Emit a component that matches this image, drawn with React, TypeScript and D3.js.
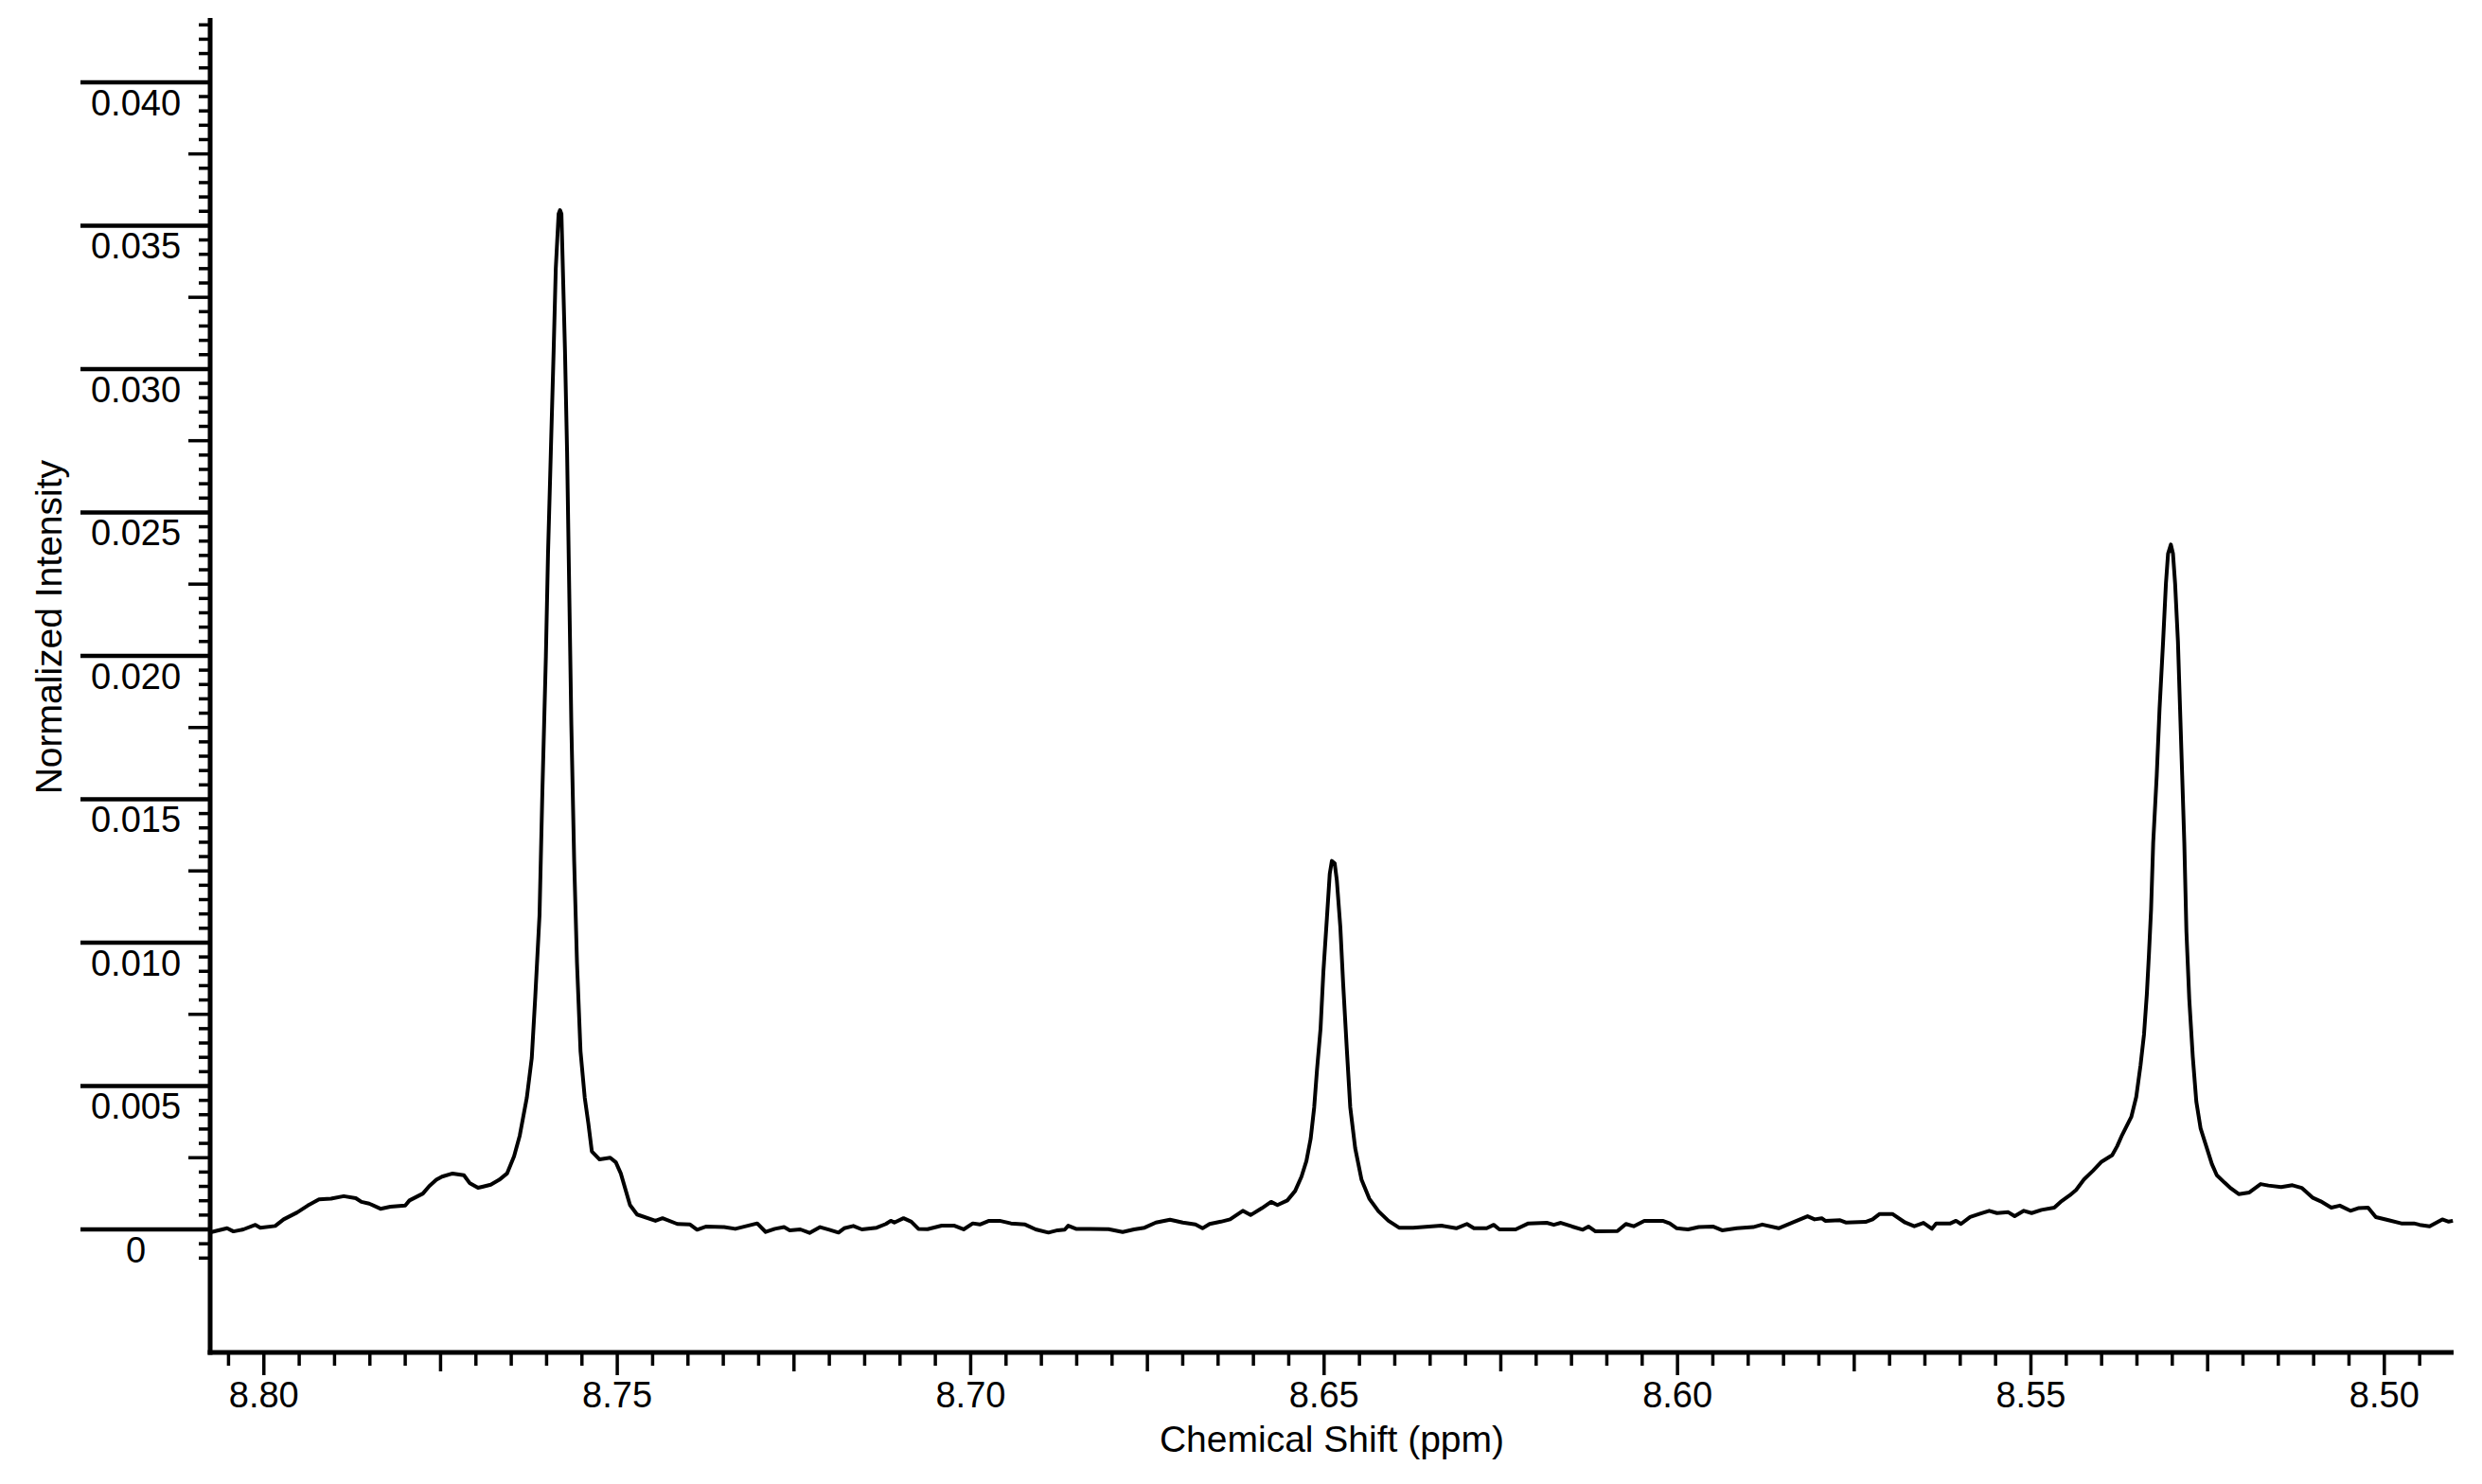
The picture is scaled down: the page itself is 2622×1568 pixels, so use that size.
import { useEffect, useRef } from "react"
import * as d3 from "d3"

// chemical shift (ppm) from left to right
const shifts = [
    8.8074, 8.8052, 8.8043, 8.8029, 8.8012, 8.8005, 8.7984, 8.7972, 8.7953, 8.7938,
    8.7922, 8.7905, 8.7887, 8.7870, 8.7862, 8.7851, 8.7835, 8.7821, 8.7800, 8.7794,
    8.7775, 8.7766, 8.7756, 8.7748, 8.7733, 8.7717, 8.7709, 8.7697, 8.7679, 8.7667,
    8.7656, 8.7646, 8.7638, 8.7628, 8.7621, 8.7616, 8.7610, 8.7606, 8.7601, 8.7598,
    8.7594, 8.7590, 8.7587, 8.7583, 8.7581, 8.7579, 8.7577, 8.7574, 8.7571, 8.7568,
    8.7565, 8.7561, 8.7557, 8.7552, 8.7546, 8.7541, 8.7536, 8.7525, 8.7510, 8.7502,
    8.7495, 8.7482, 8.7472, 8.7446, 8.7436, 8.7415, 8.7397, 8.7387, 8.7374, 8.7349,
    8.7333, 8.7302, 8.7290, 8.7277, 8.7264, 8.7256, 8.7241, 8.7228, 8.7213, 8.7200,
    8.7187, 8.7179, 8.7166, 8.7154, 8.7133, 8.7120, 8.7113, 8.7108, 8.7095, 8.7084,
    8.7074, 8.7061, 8.7041, 8.7023, 8.7010, 8.6997, 8.6987, 8.6974, 8.6959, 8.6943,
    8.6923, 8.6908, 8.6890, 8.6877, 8.6867, 8.6862, 8.6851, 8.6831, 8.6805, 8.6785,
    8.6769, 8.6754, 8.6738, 8.6718, 8.6700, 8.6682, 8.6672, 8.6662, 8.6646, 8.6633,
    8.6615, 8.6604, 8.6588, 8.6575, 8.6566, 8.6552, 8.6541, 8.6532, 8.6525, 8.6519,
    8.6514, 8.6510, 8.6505, 8.6501, 8.6496, 8.6492, 8.6489, 8.6485, 8.6482, 8.6477,
    8.6473, 8.6468, 8.6463, 8.6456, 8.6447, 8.6436, 8.6423, 8.6409, 8.6394, 8.6374,
    8.6334, 8.6313, 8.6298, 8.6288, 8.6270, 8.6260, 8.6252, 8.6229, 8.6211, 8.6185,
    8.6175, 8.6165, 8.6149, 8.6134, 8.6126, 8.6116, 8.6085, 8.6073, 8.6062, 8.6047,
    8.6021, 8.6011, 8.6001, 8.5985, 8.5970, 8.5950, 8.5937, 8.5916, 8.5893, 8.5880,
    8.5857, 8.5837, 8.5816, 8.5806, 8.5796, 8.5791, 8.5770, 8.5762, 8.5734, 8.5724,
    8.5714, 8.5696, 8.5678, 8.5665, 8.5652, 8.5640, 8.5634, 8.5614, 8.5606, 8.5599,
    8.5586, 8.5573, 8.5559, 8.5548, 8.5532, 8.5523, 8.5510, 8.5499, 8.5485, 8.5467,
    8.5458, 8.5445, 8.5436, 8.5425, 8.5412, 8.5400, 8.5385, 8.5378, 8.5371, 8.5358,
    8.5351, 8.5345, 8.5340, 8.5336, 8.5333, 8.5330, 8.5327, 8.5322, 8.5318, 8.5313,
    8.5309, 8.5306, 8.5302, 8.5299, 8.5296, 8.5292, 8.5289, 8.5286, 8.5283, 8.5280,
    8.5276, 8.5271, 8.5266, 8.5260, 8.5253, 8.5244, 8.5237, 8.5226, 8.5217, 8.5206,
    8.5191, 8.5175, 8.5164, 8.5146, 8.5130, 8.5117, 8.5101, 8.5090, 8.5075, 8.5063,
    8.5048, 8.5037, 8.5023, 8.5012, 8.4994, 8.4976, 8.4958, 8.4950, 8.4936, 8.4918,
    8.4909, 8.4903,
]

// normalized intensity at each shift above
const intensities = [
    -0.00009, 0.00004, -0.00007, 0.00000, 0.00016, 0.00006, 0.00012, 0.00035, 0.00059, 0.00083,
    0.00105, 0.00107, 0.00116, 0.00109, 0.00096, 0.00090, 0.00072, 0.00079, 0.00083, 0.00101,
    0.00125, 0.00151, 0.00173, 0.00184, 0.00195, 0.00189, 0.00162, 0.00145, 0.00156, 0.00173,
    0.00195, 0.00255, 0.00327, 0.00459, 0.00597, 0.00812, 0.01096, 0.01523, 0.01998, 0.02354,
    0.02710, 0.03066, 0.03351, 0.03541, 0.03554, 0.03541, 0.03351, 0.03066, 0.02710, 0.02235,
    0.01761, 0.01286, 0.00930, 0.00621, 0.00459, 0.00371, 0.00272, 0.00244, 0.00250, 0.00234,
    0.00195, 0.00085, 0.00052, 0.00030, 0.00039, 0.00019, 0.00017, -0.00001, 0.00010, 0.00008,
    0.00002, 0.00021, -0.00009, 0.00002, 0.00008, -0.00003, 0.00000, -0.00012, 0.00008, -0.00001,
    -0.00011, 0.00004, 0.00012, 0.00000, 0.00006, 0.00019, 0.00030, 0.00024, 0.00039, 0.00027,
    0.00002, 0.00001, 0.00013, 0.00013, 0.00000, 0.00021, 0.00017, 0.00030, 0.00030, 0.00021,
    0.00017, 0.00000, -0.00011, -0.00003, -0.00001, 0.00013, 0.00002, 0.00002, 0.00001, -0.00009,
    0.00000, 0.00006, 0.00024, 0.00034, 0.00024, 0.00017, 0.00004, 0.00019, 0.00027, 0.00035,
    0.00065, 0.00050, 0.00074, 0.00096, 0.00085, 0.00101, 0.00134, 0.00184, 0.00239, 0.00316,
    0.00426, 0.00558, 0.00701, 0.00899, 0.01086, 0.01240, 0.01285, 0.01276, 0.01218, 0.01053,
    0.00855, 0.00635, 0.00426, 0.00283, 0.00173, 0.00107, 0.00063, 0.00030, 0.00006, 0.00006,
    0.00013, 0.00004, 0.00019, 0.00004, 0.00004, 0.00016, 0.00000, 0.00000, 0.00021, 0.00023,
    0.00016, 0.00023, 0.00010, -0.00001, 0.00010, -0.00007, -0.00006, 0.00019, 0.00011, 0.00030,
    0.00030, 0.00021, 0.00004, 0.00000, 0.00008, 0.00010, -0.00003, 0.00004, 0.00008, 0.00017,
    0.00004, 0.00024, 0.00046, 0.00035, 0.00039, 0.00030, 0.00032, 0.00024, 0.00026, 0.00035,
    0.00054, 0.00054, 0.00024, 0.00011, 0.00023, 0.00002, 0.00021, 0.00021, 0.00030, 0.00019,
    0.00043, 0.00054, 0.00065, 0.00057, 0.00060, 0.00046, 0.00065, 0.00057, 0.00068, 0.00076,
    0.00096, 0.00119, 0.00138, 0.00174, 0.00205, 0.00236, 0.00259, 0.00290, 0.00329, 0.00392,
    0.00462, 0.00571, 0.00680, 0.00820, 0.00960, 0.01116, 0.01349, 0.01583, 0.01816, 0.02050,
    0.02252, 0.02356, 0.02388, 0.02356, 0.02252, 0.02050, 0.01816, 0.01583, 0.01349, 0.01038,
    0.00804, 0.00602, 0.00446, 0.00353, 0.00298, 0.00228, 0.00189, 0.00163, 0.00143, 0.00123,
    0.00129, 0.00158, 0.00153, 0.00148, 0.00154, 0.00145, 0.00110, 0.00098, 0.00076, 0.00083,
    0.00065, 0.00074, 0.00076, 0.00043, 0.00032, 0.00021, 0.00021, 0.00016, 0.00011, 0.00035,
    0.00027, 0.00030,
]

const yTickValues = [0, 0.005, 0.010, 0.015, 0.020, 0.025, 0.030, 0.035, 0.040]
const yTickLabels = ["0", "0.005", "0.010", "0.015", "0.020", "0.025", "0.030", "0.035", "0.040"]
const xTickValues = [8.80, 8.75, 8.70, 8.65, 8.60, 8.55, 8.50]
const xTickLabels = ["8.80", "8.75", "8.70", "8.65", "8.60", "8.55", "8.50"]

const W = 2622
const H = 1568
const font = "'Liberation Sans', Arial, sans-serif"

const App = () => {
    const ref = useRef(null)

    useEffect(() => {
        const svg = d3.select(ref.current)
        svg.selectAll("*").remove()

        const left = 222, right = 2592, top = 19, bottom = 1429

        const x = d3.scaleLinear().domain([8.8076, 8.4902]).range([left, right])
        const y = d3.scaleLinear().domain([-0.00429, 0.04224]).range([bottom, top])

        svg.append("rect").attr("width", W).attr("height", H).attr("fill", "#fff")

        // y ticks: every 0.0005, medium at 0.0025, long line at 0.005
        const yTicks = d3.range(-2, 85)
        svg.append("g").selectAll("line")
            .data(yTicks)
            .join("line")
            .attr("x1", k => k % 10 === 0 ? 85 : k % 5 === 0 ? 199 : 210)
            .attr("x2", left)
            .attr("y1", k => y(k * 0.0005))
            .attr("y2", k => y(k * 0.0005))
            .attr("stroke", "#000")
            .attr("stroke-width", k => k % 10 === 0 ? 4.5 : 3.5)

        svg.append("g").selectAll("text")
            .data(yTickValues)
            .join("text")
            .attr("x", 143.5)
            .attr("y", d => y(d) + 35)
            .attr("text-anchor", "middle")
            .attr("font-family", font)
            .attr("font-size", 38)
            .text((_, i) => yTickLabels[i])

        // x ticks: every 0.005, medium at 0.025, long at 0.05
        const xTicks = d3.range(1698, 1762).filter(k => x(k / 200) >= left && x(k / 200) <= right)
        svg.append("g").selectAll("line")
            .data(xTicks)
            .join("line")
            .attr("x1", k => x(k / 200))
            .attr("x2", k => x(k / 200))
            .attr("y1", bottom)
            .attr("y2", k => k % 10 === 0 ? 1453 : k % 5 === 0 ? 1449 : 1443)
            .attr("stroke", "#000")
            .attr("stroke-width", 3.5)

        svg.append("g").selectAll("text")
            .data(xTickValues)
            .join("text")
            .attr("x", d => x(d))
            .attr("y", 1487)
            .attr("text-anchor", "middle")
            .attr("font-family", font)
            .attr("font-size", 38)
            .text((_, i) => xTickLabels[i])

        // axes
        svg.append("line")
            .attr("x1", left).attr("x2", left)
            .attr("y1", top).attr("y2", bottom + 2.5)
            .attr("stroke", "#000").attr("stroke-width", 5)
        svg.append("line")
            .attr("x1", left - 2.5).attr("x2", right)
            .attr("y1", bottom).attr("y2", bottom)
            .attr("stroke", "#000").attr("stroke-width", 5)

        // spectrum
        const points = shifts.map((s, i) => [s, intensities[i]])
        const line = d3.line()
            .x(d => x(d[0]))
            .y(d => y(d[1]))
        svg.append("path")
            .attr("d", line(points))
            .attr("fill", "none")
            .attr("stroke", "#000")
            .attr("stroke-width", 4)
            .attr("stroke-linejoin", "round")

        // titles
        svg.append("text")
            .attr("x", (left + right) / 2)
            .attr("y", 1534)
            .attr("text-anchor", "middle")
            .attr("font-family", font)
            .attr("font-size", 39)
            .text("Chemical Shift (ppm)")

        svg.append("text")
            .attr("transform", `translate(65,${(y(0) + y(0.042)) / 2}) rotate(-90)`)
            .attr("text-anchor", "middle")
            .attr("font-family", font)
            .attr("font-size", 39)
            .text("Normalized Intensity")
    }, [])

    return (
        <svg ref={ref} width={W} height={H} style={{ position: "absolute", left: 0, top: 0 }}></svg>
    )
}

export default App
